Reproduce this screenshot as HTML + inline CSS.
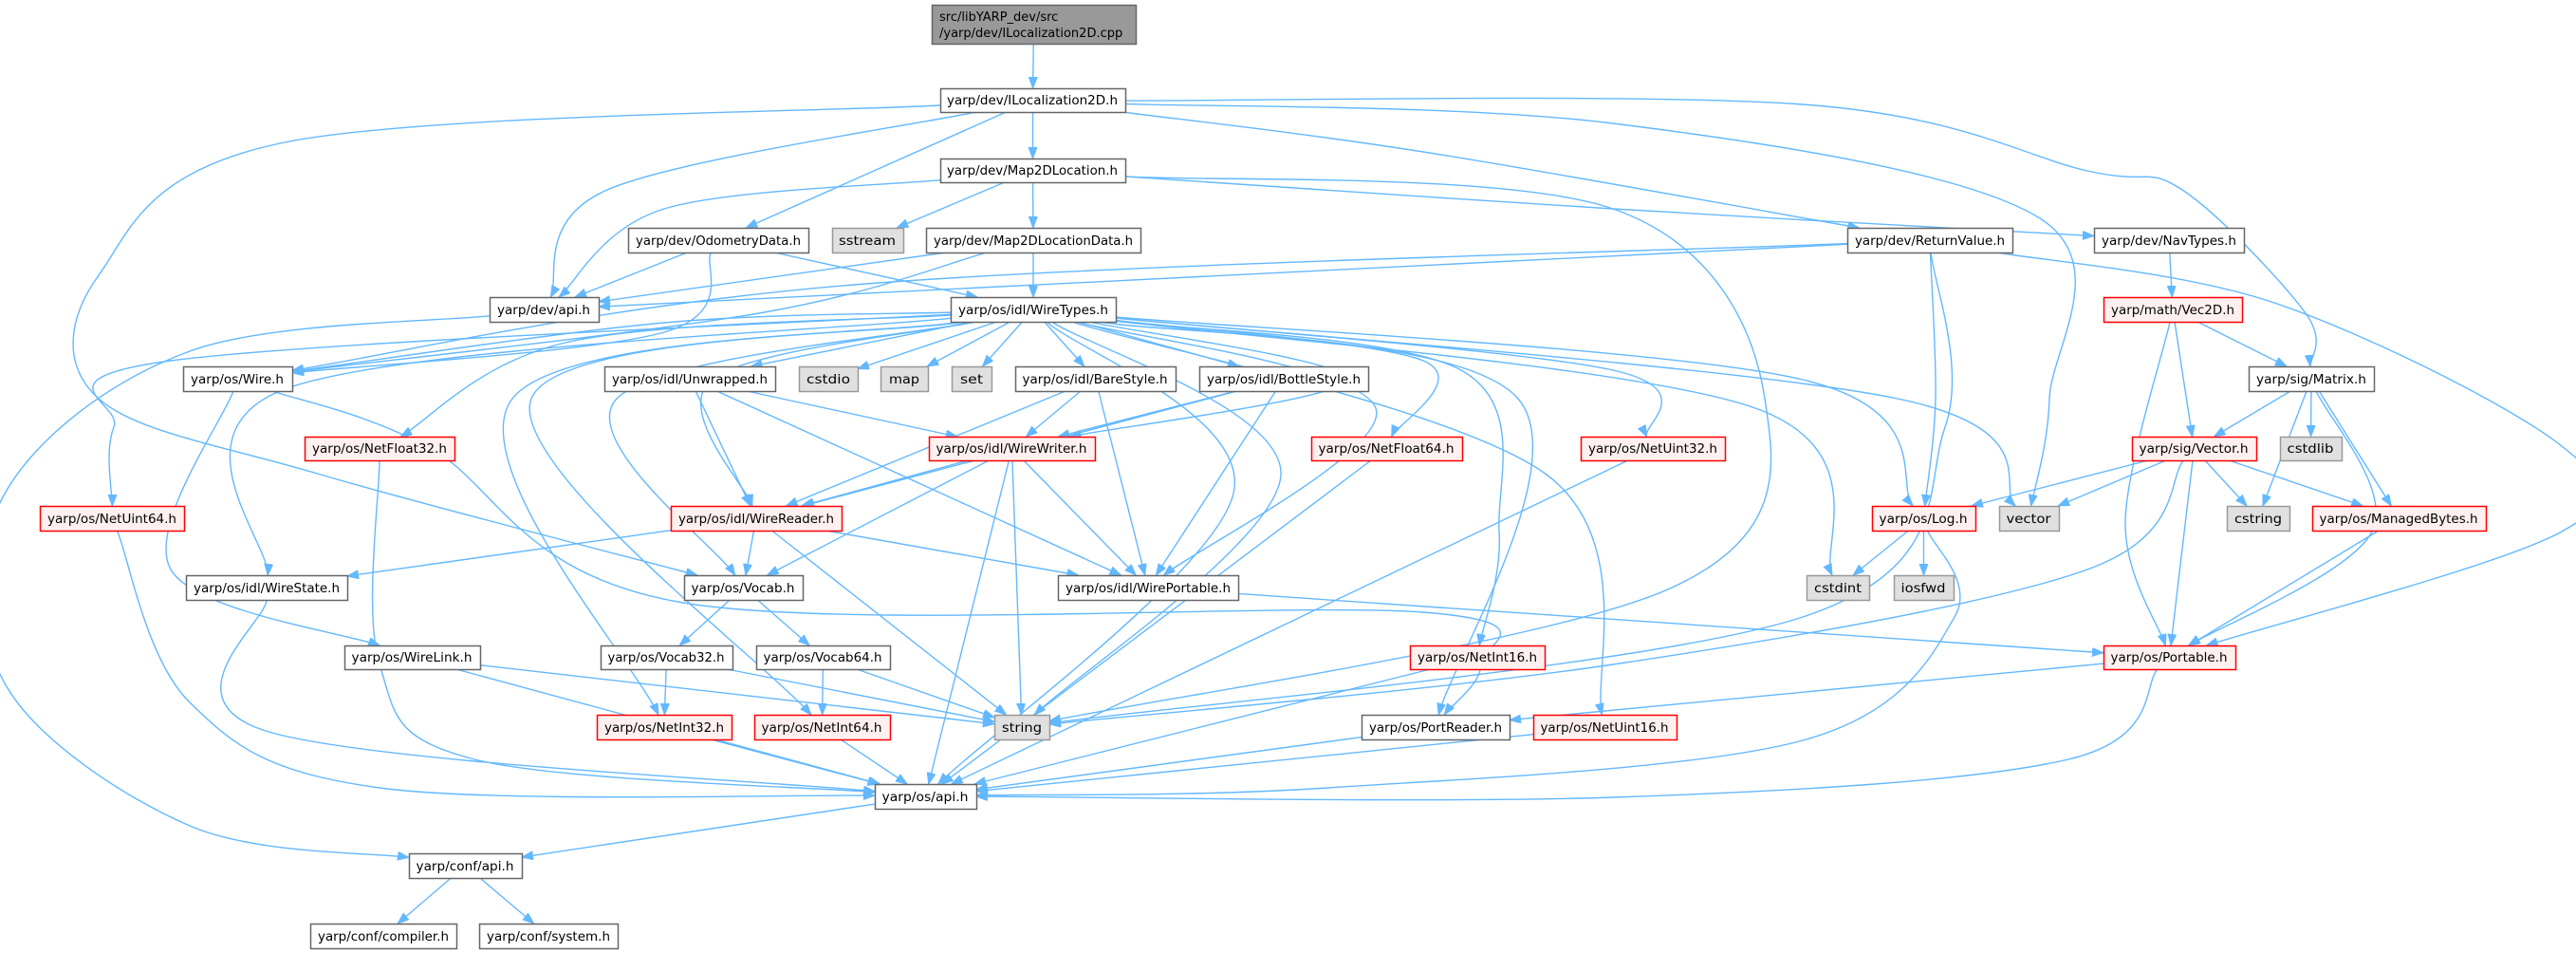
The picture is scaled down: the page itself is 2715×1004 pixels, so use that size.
<!DOCTYPE html>
<html><head><meta charset="utf-8">
<style>
html,body{margin:0;padding:0;background:#fff;}
svg{display:block;}
text{font-family:"DejaVu Sans","Liberation Sans",sans-serif;font-size:13px;fill:#000;}
</style></head>
<body>
<svg id="g" width="2715" height="1004" viewBox="0 0 2715 1004" xmlns="http://www.w3.org/2000/svg">
<defs>
<marker id="ah" markerUnits="userSpaceOnUse" markerWidth="14" markerHeight="10" refX="12" refY="4.5" orient="auto">
<path d="M0,0 L12,4.5 L0,9 z" fill="#63b8ff" stroke="#63b8ff"/>
</marker>
</defs>
<g id="edges" fill="none" stroke="#63b8ff" stroke-width="1.4"></g>
<g id="nodes"></g>
<g id="labels">
<text x="990" y="22" font-size="13">src/libYARP_dev/src</text>
<text x="990" y="39" font-size="13">/yarp/dev/ILocalization2D.cpp</text>
<text x="1088" y="110" text-anchor="middle" textLength="180" lengthAdjust="spacingAndGlyphs">yarp/dev/ILocalization2D.h</text>
<text x="1088" y="184" text-anchor="middle" textLength="180" lengthAdjust="spacingAndGlyphs">yarp/dev/Map2DLocation.h</text>
<text x="757" y="258" text-anchor="middle" textLength="174" lengthAdjust="spacingAndGlyphs">yarp/dev/OdometryData.h</text>
<text x="914" y="258" text-anchor="middle" textLength="60" lengthAdjust="spacingAndGlyphs">sstream</text>
<text x="1089" y="258" text-anchor="middle" textLength="210" lengthAdjust="spacingAndGlyphs">yarp/dev/Map2DLocationData.h</text>
<text x="573" y="331" text-anchor="middle" textLength="98" lengthAdjust="spacingAndGlyphs">yarp/dev/api.h</text>
<text x="1089" y="331" text-anchor="middle" textLength="158" lengthAdjust="spacingAndGlyphs">yarp/os/idl/WireTypes.h</text>
<text x="2034" y="258" text-anchor="middle" textLength="158" lengthAdjust="spacingAndGlyphs">yarp/dev/ReturnValue.h</text>
<text x="2286" y="258" text-anchor="middle" textLength="142" lengthAdjust="spacingAndGlyphs">yarp/dev/NavTypes.h</text>
<text x="2290" y="331" text-anchor="middle" textLength="130" lengthAdjust="spacingAndGlyphs">yarp/math/Vec2D.h</text>
<text x="250" y="404" text-anchor="middle" textLength="98" lengthAdjust="spacingAndGlyphs">yarp/os/Wire.h</text>
<text x="727" y="404" text-anchor="middle" textLength="164" lengthAdjust="spacingAndGlyphs">yarp/os/idl/Unwrapped.h</text>
<text x="873" y="404" text-anchor="middle" textLength="46" lengthAdjust="spacingAndGlyphs">cstdio</text>
<text x="953" y="404" text-anchor="middle" textLength="32" lengthAdjust="spacingAndGlyphs">map</text>
<text x="1024" y="404" text-anchor="middle" textLength="24" lengthAdjust="spacingAndGlyphs">set</text>
<text x="1154" y="404" text-anchor="middle" textLength="153" lengthAdjust="spacingAndGlyphs">yarp/os/idl/BareStyle.h</text>
<text x="1353" y="404" text-anchor="middle" textLength="162" lengthAdjust="spacingAndGlyphs">yarp/os/idl/BottleStyle.h</text>
<text x="2436" y="404" text-anchor="middle" textLength="116" lengthAdjust="spacingAndGlyphs">yarp/sig/Matrix.h</text>
<text x="400" y="477" text-anchor="middle" textLength="142" lengthAdjust="spacingAndGlyphs">yarp/os/NetFloat32.h</text>
<text x="1066" y="477" text-anchor="middle" textLength="159" lengthAdjust="spacingAndGlyphs">yarp/os/idl/WireWriter.h</text>
<text x="1461" y="477" text-anchor="middle" textLength="143" lengthAdjust="spacingAndGlyphs">yarp/os/NetFloat64.h</text>
<text x="1742" y="477" text-anchor="middle" textLength="136" lengthAdjust="spacingAndGlyphs">yarp/os/NetUint32.h</text>
<text x="2312" y="477" text-anchor="middle" textLength="115" lengthAdjust="spacingAndGlyphs">yarp/sig/Vector.h</text>
<text x="2435" y="477" text-anchor="middle" textLength="49" lengthAdjust="spacingAndGlyphs">cstdlib</text>
<text x="118" y="551" text-anchor="middle" textLength="136" lengthAdjust="spacingAndGlyphs">yarp/os/NetUint64.h</text>
<text x="797" y="551" text-anchor="middle" textLength="164" lengthAdjust="spacingAndGlyphs">yarp/os/idl/WireReader.h</text>
<text x="2027" y="551" text-anchor="middle" textLength="93" lengthAdjust="spacingAndGlyphs">yarp/os/Log.h</text>
<text x="2138" y="551" text-anchor="middle" textLength="47" lengthAdjust="spacingAndGlyphs">vector</text>
<text x="2380" y="551" text-anchor="middle" textLength="50" lengthAdjust="spacingAndGlyphs">cstring</text>
<text x="2528" y="551" text-anchor="middle" textLength="167" lengthAdjust="spacingAndGlyphs">yarp/os/ManagedBytes.h</text>
<text x="281" y="624" text-anchor="middle" textLength="154" lengthAdjust="spacingAndGlyphs">yarp/os/idl/WireState.h</text>
<text x="783" y="624" text-anchor="middle" textLength="109" lengthAdjust="spacingAndGlyphs">yarp/os/Vocab.h</text>
<text x="1210" y="624" text-anchor="middle" textLength="174" lengthAdjust="spacingAndGlyphs">yarp/os/idl/WirePortable.h</text>
<text x="1937" y="624" text-anchor="middle" textLength="50" lengthAdjust="spacingAndGlyphs">cstdint</text>
<text x="2027" y="624" text-anchor="middle" textLength="47" lengthAdjust="spacingAndGlyphs">iosfwd</text>
<text x="434" y="697" text-anchor="middle" textLength="127" lengthAdjust="spacingAndGlyphs">yarp/os/WireLink.h</text>
<text x="702" y="697" text-anchor="middle" textLength="123" lengthAdjust="spacingAndGlyphs">yarp/os/Vocab32.h</text>
<text x="867" y="697" text-anchor="middle" textLength="125" lengthAdjust="spacingAndGlyphs">yarp/os/Vocab64.h</text>
<text x="1557" y="697" text-anchor="middle" textLength="126" lengthAdjust="spacingAndGlyphs">yarp/os/NetInt16.h</text>
<text x="2286" y="697" text-anchor="middle" textLength="123" lengthAdjust="spacingAndGlyphs">yarp/os/Portable.h</text>
<text x="700" y="771" text-anchor="middle" textLength="126" lengthAdjust="spacingAndGlyphs">yarp/os/NetInt32.h</text>
<text x="866" y="771" text-anchor="middle" textLength="127" lengthAdjust="spacingAndGlyphs">yarp/os/NetInt64.h</text>
<text x="1077" y="771" text-anchor="middle" textLength="42" lengthAdjust="spacingAndGlyphs">string</text>
<text x="1513" y="771" text-anchor="middle" textLength="140" lengthAdjust="spacingAndGlyphs">yarp/os/PortReader.h</text>
<text x="1691" y="771" text-anchor="middle" textLength="135" lengthAdjust="spacingAndGlyphs">yarp/os/NetUint16.h</text>
<text x="975" y="844" text-anchor="middle" textLength="91" lengthAdjust="spacingAndGlyphs">yarp/os/api.h</text>
<text x="490" y="917" text-anchor="middle" textLength="103" lengthAdjust="spacingAndGlyphs">yarp/conf/api.h</text>
<text x="404" y="991" text-anchor="middle" textLength="138" lengthAdjust="spacingAndGlyphs">yarp/conf/compiler.h</text>
<text x="578" y="991" text-anchor="middle" textLength="130" lengthAdjust="spacingAndGlyphs">yarp/conf/system.h</text>
</g>
</svg>
<script>
var N={
root:[982,5,215,41,'k'],iloc:[991,93,195,25],m2d:[991,167,195,25],odo:[662,240,190,26],sstream:[877,240,75,26,'g'],
m2dd:[976,240,226,26],devapi:[516,313,115,26],wt:[1002,313,174,26],ret:[1947,240,174,26],nav:[2207,240,158,26],
vec2d:[2217,313,146,26,'r'],wire:[193,386,115,26],unw:[637,386,180,26],cstdio:[842,386,62,26,'g'],map:[928,386,50,26,'g'],
set:[1003,386,42,26,'g'],bare:[1070,386,169,26],bottle:[1264,386,178,26],matrix:[2370,386,132,26],nf32:[321,460,158,25,'r'],
ww:[979,460,175,25,'r'],nf64:[1382,460,159,25,'r'],nu32:[1666,460,152,25,'r'],vector:[2247,460,131,25,'r'],cstdlib:[2403,460,65,25,'g'],
nu64:[42,533,152,26,'r'],wr:[707,533,180,26,'r'],log:[1973,533,109,26,'r'],vstd:[2107,533,63,26,'g'],cstring:[2347,533,66,26,'g'],
mb:[2437,533,183,26,'r'],wstate:[196,606,170,26],vocab:[721,606,125,26],wp:[1115,606,190,26],cstdint:[1904,606,66,26,'g'],
iosfwd:[1996,606,63,26,'g'],wlink:[363,680,143,25],v32:[633,680,139,25],v64:[797,680,141,25],ni16:[1486,680,142,25,'r'],
port:[2217,680,139,25,'r'],ni32:[629,753,142,26,'r'],ni64:[795,753,143,26,'r'],string:[1048,753,58,26,'g'],pr:[1435,753,156,26],
nu16:[1616,753,151,26,'r'],osapi:[922,826,107,26],conf:[431,899,119,26],comp:[327,973,154,26],sys:[505,973,146,26]};
var E=[
['root','iloc'],['iloc','devapi',[[640,200]]],['iloc','vocab',[[300,150],[104,290],[104,420],[338,500]]],['iloc','odo'],['iloc','m2d'],
['iloc','ret',[[1500,160]]],['iloc','vstd',[[1700,130],[2150,230],[2160,420]]],['iloc','matrix',[[1900,110],[2200,180],[2300,200],[2430,330]]],
['m2d','devapi',[[700,220]]],['m2d','sstream'],['m2d','m2dd'],['m2d','nav',[[1700,220]]],['m2d','string',[[1700,220],[1860,420],[1760,620]]],
['odo','devapi'],['odo','wt'],['odo','wire',[[700,350]]],['m2dd','devapi'],['m2dd','wt'],['m2dd','wire',[[800,330]]],
['ret','devapi'],['ret','wire',[[900,300]]],['ret','log',[[2040,420]]],['ret','string',[[2050,450],[1900,650]]],['ret','port',[[2400,320],[2700,470],[2700,560]]],
['nav','vec2d'],['vec2d','matrix'],['vec2d','vector'],['vec2d','port',[[2240,550]]],
['matrix','vector'],['matrix','cstdlib'],['matrix','cstring'],['matrix','mb'],['matrix','port',[[2500,560]]],
['vector','log'],['vector','vstd'],['vector','cstring'],['vector','mb'],['vector','port'],['vector','string',[[2200,600],[1700,700]]],
['log','cstdint'],['log','iosfwd'],['log','osapi',[[2060,650],[1900,780],[1400,830]]],['mb','port'],['port','pr'],['port','osapi',[[2180,800],[1700,840]]],
['devapi','conf',[[200,370],[5,520],[5,720],[200,870]]],
['wt','wire',[[700,340]]],['wt','unw'],['wt','cstdio'],['wt','map'],['wt','set'],['wt','bare'],['wt','bottle'],['wt','nf32',[[600,360]]],
['wt','nf64',[[1500,380]]],['wt','nu32',[[1700,390]]],['wt','nu64',[[180,380],[120,450]]],['wt','wstate',[[300,410]]],['wt','wr',[[750,400]]],
['wt','ww',[[1420,400]]],['wt','vocab',[[650,420]]],['wt','wp',[[1450,430]]],['wt','string',[[1350,500]]],['wt','cstdint',[[1850,430]]],
['wt','vstd',[[2000,420]]],['wt','log',[[1900,400]]],['wt','ni16',[[1540,390],[1580,560]]],['wt','ni32',[[540,420]]],['wt','ni64',[[560,420]]],
['wt','nu16',[[1630,500]]],['wt','osapi',[[1300,520]]],['wt','pr',[[1600,420]]],
['wire','wlink',[[180,600]]],['wire','pr',[[450,470],[720,635],[1500,645],[1560,700]]],
['unw','wr'],['unw','ww'],['unw','wp'],['bare','wr'],['bare','ww'],['bare','wp'],['bottle','wr'],['bottle','ww'],['bottle','wp'],
['ww','wr'],['ww','vocab'],['ww','wp'],['ww','string'],['ww','osapi'],
['wr','wstate'],['wr','vocab'],['wr','wp'],['wr','string'],['wp','port'],
['wstate','osapi',[[280,770]]],['vocab','v32'],['vocab','v64'],['v32','ni32'],['v32','string'],['v64','ni64'],['v64','string'],
['wlink','string'],['wlink','osapi'],['ni32','osapi'],['ni64','osapi'],['nu64','osapi',[[200,740],[400,830]]],['nf32','osapi',[[400,700],[500,800]]],
['nf64','osapi'],['nu32','osapi'],['ni16','osapi'],['nu16','osapi'],['pr','osapi'],
['osapi','conf'],['conf','comp'],['conf','sys']];
var ns='http://www.w3.org/2000/svg';
function C(n){var b=N[n];return [b[0]+b[2]/2,b[1]+b[3]/2];}
function clip(n,p){var b=N[n],c=C(n),dx=p[0]-c[0],dy=p[1]-c[1];var hw=b[2]/2,hh=b[3]/2;
 var t=Math.min(dx?hw/Math.abs(dx):1e9,dy?hh/Math.abs(dy):1e9);return [c[0]+dx*t,c[1]+dy*t];}
var eg=document.getElementById('edges');
E.forEach(function(e){var w=e[2]||[];var first=w.length?w[0]:C(e[1]);var last=w.length?w[w.length-1]:C(e[0]);
 var pts=[clip(e[0],first)].concat(w).concat([clip(e[1],last)]);
 var d='M'+pts[0][0]+','+pts[0][1];
 if(pts.length==2){d+=' L'+pts[1][0]+','+pts[1][1];}
 else{for(var i=0;i<pts.length-1;i++){var p0=pts[i-1]||pts[i],p1=pts[i],p2=pts[i+1],p3=pts[i+2]||p2;
  d+=' C'+(p1[0]+(p2[0]-p0[0])/6)+','+(p1[1]+(p2[1]-p0[1])/6)+' '+(p2[0]-(p3[0]-p1[0])/6)+','+(p2[1]-(p3[1]-p1[1])/6)+' '+p2[0]+','+p2[1];}}
 var p=document.createElementNS(ns,'path');p.setAttribute('d',d);p.setAttribute('marker-end','url(#ah)');eg.appendChild(p);});
var ng=document.getElementById('nodes');
for(var k in N){var b=N[k],t=b[4];var r=document.createElementNS(ns,'rect');
 r.setAttribute('x',b[0]+.5);r.setAttribute('y',b[1]+.5);r.setAttribute('width',b[2]);r.setAttribute('height',b[3]);
 var f='#fff',s='#666';if(t=='r'){f='#fff0f0';s='#ff0000';}else if(t=='g'){f='#e0e0e0';s='#999';}else if(t=='k'){f='#999';s='#666';}
 r.setAttribute('fill',f);r.setAttribute('stroke',s);r.setAttribute('stroke-width','1.5');ng.appendChild(r);}
</script>
</body></html>
